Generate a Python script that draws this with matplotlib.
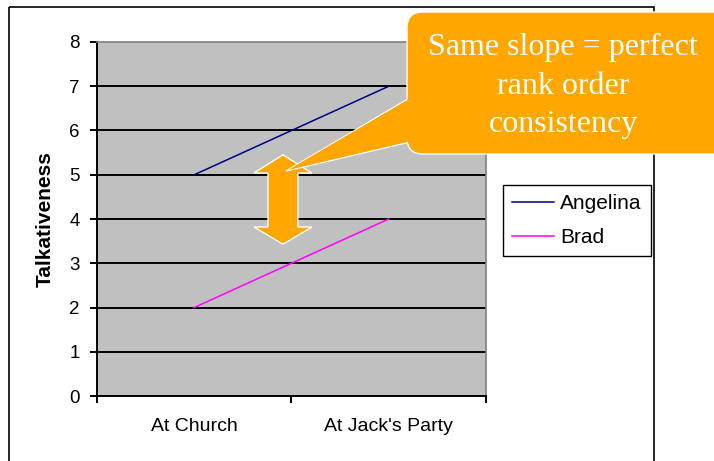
import matplotlib
matplotlib.use('Agg')
import matplotlib.pyplot as plt
import matplotlib.patches as mpatches
import matplotlib.transforms as mtransforms

plt.rcParams['font.family'] = ['Liberation Sans', 'DejaVu Sans']

categories = ['At Church', "At Jack's Party"]
angelina = [5, 7]
brad = [2, 4]
callout_text = 'Same slope = perfect\nrank order\nconsistency'

W, H = 714, 461
ORANGE = '#FFA600'

fig = plt.figure(figsize=(W / 100, H / 100), dpi=100)
# pixel coordinates, origin at top left
px = mtransforms.Affine2D().scale(1 / W, -1 / H).translate(0, 1) + fig.transFigure

# outer chart border
fig.patches.append(mpatches.Rectangle((9, 7), 645, 480, transform=px,
                                      fill=False, ec='black', lw=1.2))

ax = fig.add_axes([97 / W, 65 / H, 389 / W, 354 / H])
ax.set_facecolor('#C0C0C0')
xs = range(len(categories))
ax.plot(xs, angelina, color='#000080', lw=1.1, label='Angelina', zorder=3)
ax.plot(xs, brad, color='#FF00FF', lw=1.1, label='Brad', zorder=3)

ax.set_xlim(-0.5, len(categories) - 0.5)
ax.set_ylim(0, 8)
ax.set_yticks(range(0, 9))
ax.set_xticks([i - 0.5 for i in range(len(categories) + 1)])
ax.set_xticklabels([])
ax.set_xticks(list(xs), minor=True)
ax.set_xticklabels(categories, minor=True, fontsize=14)
ax.tick_params(axis='x', which='minor', length=0, pad=16)
ax.tick_params(axis='both', which='major', length=5, width=1.4, labelsize=13.5)
ax.tick_params(axis='y', pad=7.5)
for y in range(1, 8):
    ax.axhline(y, color='black', lw=1.4, zorder=1)
for s in ['left', 'bottom']:
    ax.spines[s].set_linewidth(1.4)
for s in ['top', 'right']:
    ax.spines[s].set_color('#808080')
    ax.spines[s].set_linewidth(1.2)
ax.set_ylabel('Talkativeness', fontsize=15, fontweight='bold', labelpad=10)

leg = ax.legend(loc='upper left', bbox_to_anchor=(503 / W, 1 - 185 / H),
                bbox_transform=fig.transFigure, fontsize=15, fancybox=False,
                edgecolor='black', framealpha=1, borderaxespad=0,
                handlelength=2.0, handletextpad=0.3, labelspacing=0.7,
                borderpad=0.45)
leg.get_frame().set_linewidth(1.0)

# double-headed arrow between the two lines
cx, hw, sw = 0.456, 0.149, 0.077
arrow = [(cx, 5.45), (cx + hw, 5.04), (cx + sw, 5.04), (cx + sw, 3.82),
         (cx + hw, 3.82), (cx, 3.43), (cx - hw, 3.82), (cx - sw, 3.82),
         (cx - sw, 5.04), (cx - hw, 5.04)]
ax.add_patch(mpatches.Polygon(arrow, closed=True, fc=ORANGE, ec='white',
                              lw=1.0, zorder=4, clip_on=False))

# callout bubble with its tail
tail = [(286, 171), (440, 80), (440, 135)]
fig.patches.append(mpatches.Polygon(tail, closed=True, transform=px,
                                    fc=ORANGE, ec='white', lw=1.0, zorder=5))
fig.patches.append(mpatches.FancyBboxPatch(
    (407, 12), 340, 142, boxstyle='round,pad=0,rounding_size=16',
    transform=px, fc=ORANGE, ec='white', lw=1.0, zorder=6))
fig.patches.append(mpatches.Polygon([(288, 170), (440, 81), (440, 134)],
                                    closed=True, transform=px, fc=ORANGE,
                                    ec='none', zorder=7))
fig.text(563 / W, 1 - 86 / H, callout_text, color='white', fontsize=23,
         family='Liberation Serif', ha='center', va='center',
         linespacing=1.42, zorder=8)

fig.savefig('out.png', dpi=100)
